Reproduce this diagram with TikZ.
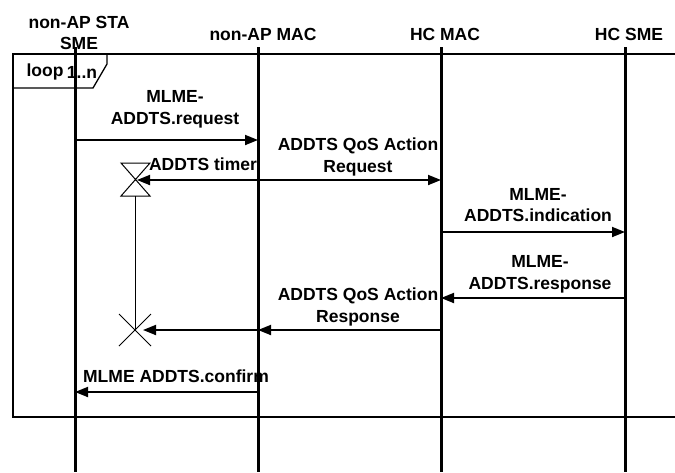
\documentclass[tikz,border=0pt]{standalone}
\usepackage{fontspec}
\setmainfont{Liberation Sans}
\usetikzlibrary{arrows.meta, positioning, calc}
\tikzset{
  actor/.style={font=\fontsize{17.5}{21}\selectfont\bfseries, align=center, inner sep=0pt},
  msglabel/.style={font=\fontsize{17.5}{21.5}\selectfont\bfseries, align=center, inner sep=0pt},
  lifeline/.style={line width=3pt},
  msg/.style={-{Triangle[length=13pt,width=10pt]}, line width=1.8pt},
  frame/.style={line width=1.3pt},
  timer/.style={line width=1pt}
}

\begin{document}
\begin{tikzpicture}[x=1pt, y=-1pt]
  \useasboundingbox (0,0) rectangle (675,472);

  % Heads
  \node[actor, anchor=south] (stahead) at (79,50) {non-AP STA\\SME};
  \node[actor, anchor=base] (machead) at (263,40) {non-AP MAC};
  \node[actor, anchor=base] (hcmachead) at (445,40) {HC MAC};
  \node[actor, anchor=base] (hcsmehead) at (629,40) {HC SME};

  % Loop frame
  \draw[frame] (675,54) -- (13,54) -- (13,417) -- (675,417);
  \draw[frame] (13,88) -- (93,88) -- (107,64) -- (107,54);
  \node[msglabel] (looptag) at (45,72) {loop};
  \node[msglabel] (loopcount) at (82,72) {1..n};

  % Lifelines
  \coordinate (sta) at (75,47);
  \coordinate (mac) at (258,47);
  \coordinate (hcmac) at (441,47);
  \coordinate (hcsme) at (625,47);
  \foreach \l in {sta, mac, hcmac, hcsme}
    \draw[lifeline] (\l) -- (\l |- 0,472);

  % Rows
  \coordinate (r1) at (0,140);
  \coordinate (r2) at (0,180);
  \coordinate (r3) at (0,232);
  \coordinate (r4) at (0,298);
  \coordinate (r5) at (0,330);
  \coordinate (r6) at (0,392);

  % Timer
  \coordinate (tstart) at (135,180);
  \coordinate (tstop) at (135,330);
  \draw[timer] ($(tstart)+(-14,-17)$) -- ($(tstart)+(15,-17)$) -- ($(tstart)+(-14,16)$) -- ($(tstart)+(15,16)$) -- cycle;
  \draw[timer] ($(tstart)+(0,16)$) -- (tstop);
  \draw[timer] ($(tstop)+(-16,-16)$) -- ($(tstop)+(16,16)$);
  \draw[timer] ($(tstop)+(-16,16)$) -- ($(tstop)+(16,-16)$);

  % Messages
  \draw[msg] (sta |- r1) -- (mac |- r1);
  \node[msglabel, anchor=south] (reqlbl) at (175,128) {MLME-\\ADDTS.request};

  \draw[msg] (mac |- r2) -- (hcmac |- r2);
  \draw[msg] (mac |- r2) -- ($(tstart)+(2,0)$);
  \node[msglabel, anchor=south] (actreqlbl) at (358,176) {ADDTS QoS Action\\Request};
  \node[msglabel, anchor=base] (timerlbl) at (203,170) {ADDTS timer};

  \draw[msg] (hcmac |- r3) -- (hcsme |- r3);
  \node[msglabel, anchor=south] (indlbl) at (538,222) {MLME-\\ADDTS.indication};

  \draw[msg] (hcsme |- r4) -- (hcmac |- r4);
  \node[msglabel, anchor=south] (rsplbl) at (540,293) {MLME-\\ADDTS.response};

  \draw[msg] (hcmac |- r5) -- (mac |- r5);
  \draw[msg] (mac |- r5) -- ($(tstop)+(8,0)$);
  \node[msglabel, anchor=south] (actrsplbl) at (358,326) {ADDTS QoS Action\\Response};

  \draw[msg] (mac |- r6) -- (sta |- r6);
  \node[msglabel, anchor=south] (cnflbl) at (176,383) {MLME ADDTS.confirm};
\end{tikzpicture}
\end{document}
